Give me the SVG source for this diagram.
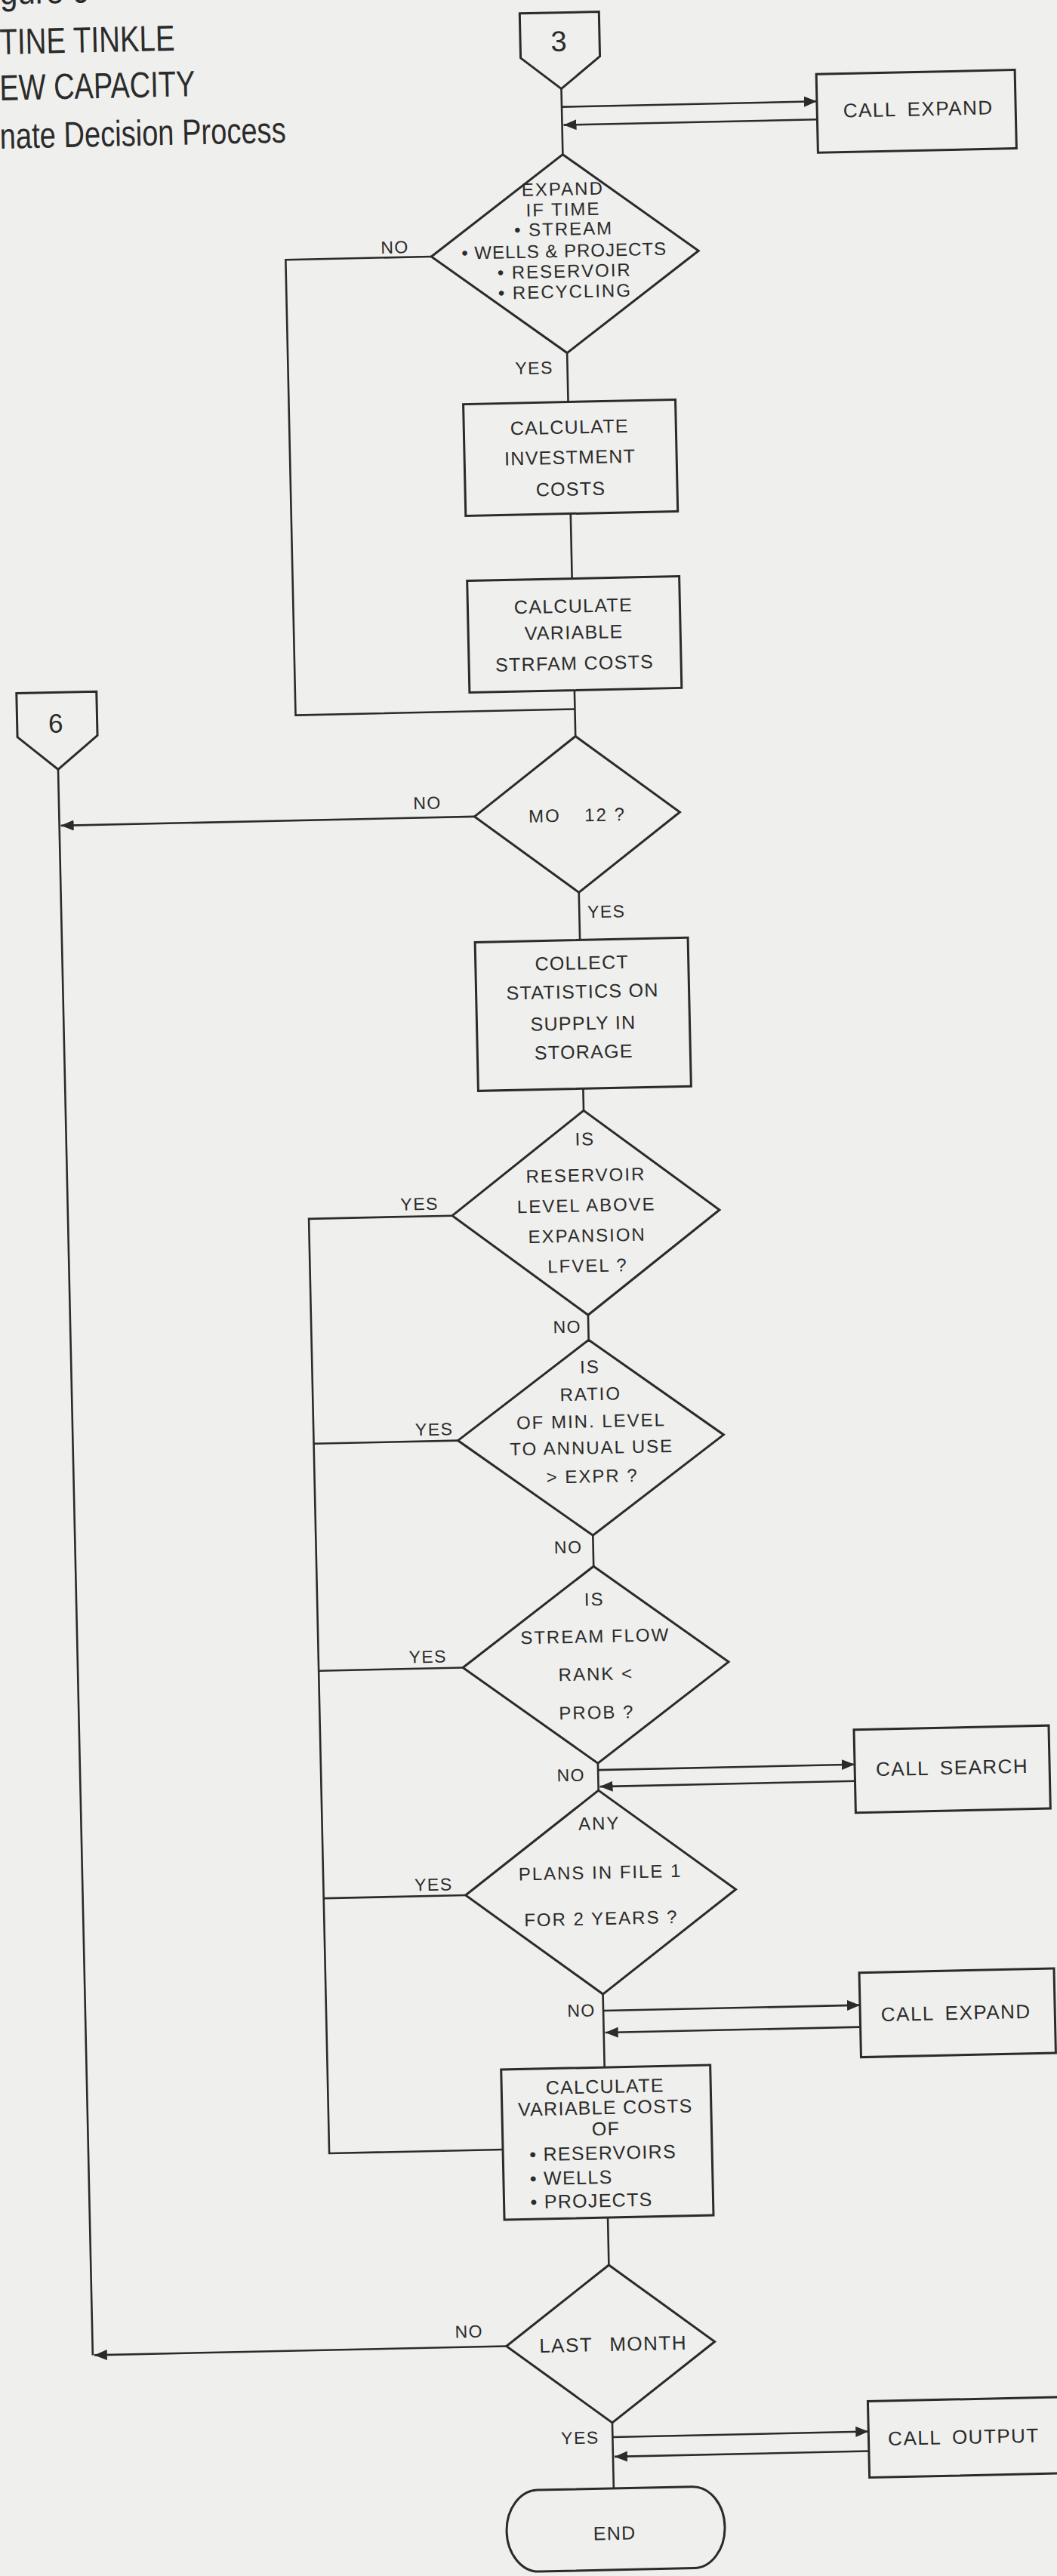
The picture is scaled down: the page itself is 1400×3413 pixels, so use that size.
<svg xmlns="http://www.w3.org/2000/svg" width="1400" height="3413" viewBox="0 0 1400 3413">
<defs>
<style>
.s{fill:none;stroke:#2b2b2b;stroke-width:3;stroke-linejoin:miter}
.c{fill:none;stroke:#2b2b2b;stroke-width:2.6}
.t{font-family:'Liberation Sans',Arial,sans-serif;font-size:25px;fill:#2b2b2b;text-anchor:middle;letter-spacing:1.3px}
.d{font-size:24px;letter-spacing:2px}
.l{font-size:23px;letter-spacing:1.5px}
.k{font-size:26px;letter-spacing:1.5px;word-spacing:6px}
.ttl{font-size:48px;text-anchor:start;letter-spacing:0}
</style>
<marker id="ah" markerUnits="userSpaceOnUse" markerWidth="18" markerHeight="16" refX="17" refY="7" orient="auto">
<path d="M0,0 L17,7 L0,14 Z" fill="#2b2b2b"/>
</marker>
</defs>
<rect x="0" y="0" width="1400" height="3413" fill="#efefed"/>
<g transform="rotate(-1.25 700 1700)">
<g id="title">
<text class="t ttl" x="37" y="-9" textLength="120" lengthAdjust="spacingAndGlyphs">gure 9</text>
<text class="t ttl" x="35.5" y="57" textLength="232" lengthAdjust="spacingAndGlyphs">TINE TINKLE</text>
<text class="t ttl" x="34" y="118" textLength="259" lengthAdjust="spacingAndGlyphs">EW CAPACITY</text>
<text class="t ttl" x="33" y="182" textLength="379" lengthAdjust="spacingAndGlyphs">nate Decision Process</text>
</g>
<g id="connectors">
<path class="c" d="M778,119 V206"/>
<path class="c" d="M778,469 V534"/>
<path class="c" d="M778,682 V768"/>
<path class="c" d="M778,916 V977"/>
<path class="c" d="M778,1184 V1247"/>
<path class="c" d="M778,1444 V1473"/>
<path class="c" d="M778,1744 V1777"/>
<path class="c" d="M778,2036 V2077"/>
<path class="c" d="M778,2338 V2374"/>
<path class="c" d="M778,2644 V2741"/>
<path class="c" d="M778,2940 V3003"/>
<path class="c" d="M778,3212 V3299"/>
<path class="c" d="M778,143 H1116" marker-end="url(#ah)"/>
<path class="c" d="M1116,167 H780" marker-end="url(#ah)"/>
<path class="c" d="M778,2347 H1118" marker-end="url(#ah)"/>
<path class="c" d="M1118,2369 H780" marker-end="url(#ah)"/>
<path class="c" d="M778,2666 H1118" marker-end="url(#ah)"/>
<path class="c" d="M1118,2695 H780" marker-end="url(#ah)"/>
<path class="c" d="M778,3231 H1117" marker-end="url(#ah)"/>
<path class="c" d="M1117,3257 H780" marker-end="url(#ah)"/>
<path class="c" d="M601,337.5 H408 V941 H778"/>
<path class="c" d="M601,1608.5 H411 V2847 H641"/>
<path class="c" d="M602,1906.5 H411"/>
<path class="c" d="M602,2207.5 H411"/>
<path class="c" d="M599,2509 H411"/>
<path class="c" d="M92,1006 V3107.5"/>
<path class="c" d="M642,1080.5 H94" marker-end="url(#ah)"/>
<path class="c" d="M640,3107.5 H94" marker-end="url(#ah)"/>
<text class="t l" x="553" y="332">NO</text>
<text class="t l" x="734" y="496">YES</text>
<text class="t l" x="580" y="1069">NO</text>
<text class="t l" x="814" y="1218">YES</text>
<text class="t l" x="558" y="1600">YES</text>
<text class="t l" x="750" y="1767">NO</text>
<text class="t l" x="571" y="1899">YES</text>
<text class="t l" x="745" y="2059">NO</text>
<text class="t l" x="556" y="2200">YES</text>
<text class="t l" x="742" y="2361">NO</text>
<text class="t l" x="557" y="2502">YES</text>
<text class="t l" x="749" y="2673">NO</text>
<text class="t l" x="591" y="3095">NO</text>
<text class="t l" x="735" y="3239">YES</text>
</g>
<g id="conn3">
<path class="s" d="M725,18 H830 V77 L778,119 L725,77 Z"/>
<text class="t" style="font-size:38px;letter-spacing:0" x="776" y="69">3</text>
</g>
<g id="callExpand1">
<rect class="s" x="1116" y="107" width="263" height="104"/>
<text class="t k" x="1250" y="165">CALL EXPAND</text>
</g>
<g id="expandIfTime">
<path class="s" d="M778,206 L955,337.5 L778,469 L601,337.5 Z"/>
<text class="t d" x="777" y="260">EXPAND</text>
<text class="t d" x="777" y="287">IF TIME</text>
<text class="t d" x="777" y="313">• STREAM</text>
<text class="t d" style="letter-spacing:1px" x="777" y="342">• WELLS &amp; PROJECTS</text>
<text class="t d" x="777" y="369">• RESERVOIR</text>
<text class="t d" x="777" y="396">• RECYCLING</text>
</g>
<g id="investmentCosts">
<rect class="s" x="639" y="534" width="281" height="148"/>
<text class="t" x="779" y="576">CALCULATE</text>
<text class="t" x="779" y="616">INVESTMENT</text>
<text class="t" x="779" y="658">COSTS</text>
</g>
<g id="streamCosts">
<rect class="s" x="639" y="768" width="281" height="148"/>
<text class="t" x="779" y="813">CALCULATE</text>
<text class="t" x="779" y="848">VARIABLE</text>
<text class="t" x="779" y="889">STRFAM COSTS</text>
</g>
<g id="conn6">
<path class="s" d="M39,904 H145 V962 L92,1006 L39,962 Z"/>
<text class="t" style="font-size:35px;letter-spacing:0" x="90" y="957">6</text>
</g>
<g id="mo12">
<path class="s" d="M778,977 L914,1080.5 L778,1184 L642,1080.5 Z"/>
<text class="t d"><tspan x="735" y="1090">MO</tspan><tspan x="815" y="1090">12 ?</tspan></text>
</g>
<g id="collectStats">
<rect class="s" x="639" y="1247" width="282" height="197"/>
<text class="t" x="780" y="1286">COLLECT</text>
<text class="t" x="780" y="1324">STATISTICS ON</text>
<text class="t" x="780" y="1366">SUPPLY IN</text>
<text class="t" x="780" y="1404">STORAGE</text>
</g>
<g id="reservoirLevel">
<path class="s" d="M778,1473 L955,1608.5 L778,1744 L601,1608.5 Z"/>
<text class="t d" x="779" y="1519">IS</text>
<text class="t d" x="779" y="1567">RESERVOIR</text>
<text class="t d" x="779" y="1607">LEVEL ABOVE</text>
<text class="t d" x="779" y="1647">EXPANSION</text>
<text class="t d" x="779" y="1687">LFVEL ?</text>
</g>
<g id="ratioMinLevel">
<path class="s" d="M778,1777 L954,1906.5 L778,2036 L602,1906.5 Z"/>
<text class="t d" x="779" y="1821">IS</text>
<text class="t d" x="779" y="1857">RATIO</text>
<text class="t d" x="779" y="1893">OF MIN. LEVEL</text>
<text class="t d" x="779" y="1928">TO ANNUAL USE</text>
<text class="t d" x="779" y="1966">&gt; EXPR ?</text>
</g>
<g id="streamFlowRank">
<path class="s" d="M778,2077 L954,2207.5 L778,2338 L602,2207.5 Z"/>
<text class="t d" x="778" y="2129">IS</text>
<text class="t d" x="778" y="2178">STREAM FLOW</text>
<text class="t d" x="778" y="2228">RANK  &lt;</text>
<text class="t d" x="778" y="2279">PROB ?</text>
</g>
<g id="callSearch">
<rect class="s" x="1118" y="2301" width="258" height="110"/>
<text class="t k" x="1247" y="2363">CALL SEARCH</text>
</g>
<g id="anyPlans">
<path class="s" d="M778,2374 L957,2509 L778,2644 L599,2509 Z"/>
<text class="t d" x="778" y="2426">ANY</text>
<text class="t d" x="778" y="2491">PLANS IN FILE 1</text>
<text class="t d" x="778" y="2552">FOR 2 YEARS ?</text>
</g>
<g id="callExpand2">
<rect class="s" x="1118" y="2623" width="258" height="112"/>
<text class="t k" x="1245" y="2688">CALL EXPAND</text>
</g>
<g id="variableCosts">
<rect class="s" x="641" y="2741" width="277" height="199"/>
<text class="t" x="778" y="2775">CALCULATE</text>
<text class="t" x="778" y="2803">VARIABLE COSTS</text>
<text class="t" x="778" y="2831">OF</text>
<text class="t" style="text-anchor:start" x="676" y="2863">• RESERVOIRS</text>
<text class="t" style="text-anchor:start" x="676" y="2895">• WELLS</text>
<text class="t" style="text-anchor:start" x="676" y="2926">• PROJECTS</text>
</g>
<g id="lastMonth">
<path class="s" d="M778,3003 L916,3107.5 L778,3212 L640,3107.5 Z"/>
<text class="t k"><tspan x="719" y="3117">LAST</tspan><tspan x="828" y="3117">MONTH</tspan></text>
</g>
<g id="callOutput">
<rect class="s" x="1117" y="3191" width="262" height="101"/>
<text class="t k" x="1243" y="3250">CALL OUTPUT</text>
</g>
<g id="end">
<rect class="s" x="635" y="3299" width="289" height="108" rx="42" ry="54"/>
<text class="t" x="778" y="3367">END</text>
</g>
</g>
</svg>
